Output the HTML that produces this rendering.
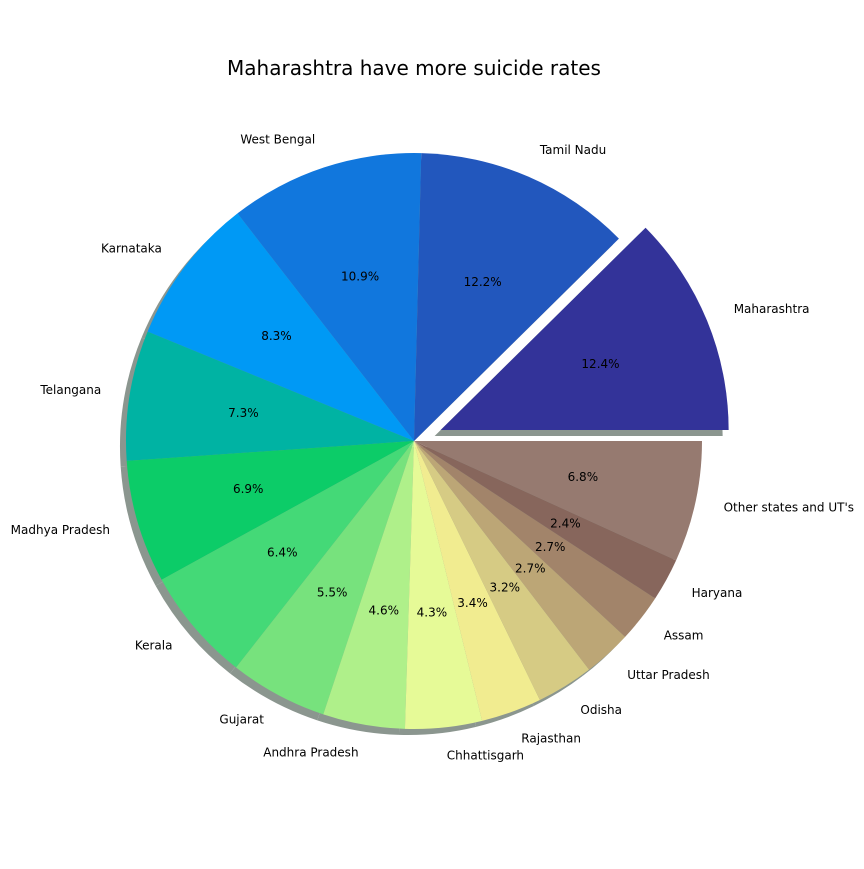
<!DOCTYPE html>
<html><head><meta charset="utf-8"><style>
body{margin:0;background:#fff}
svg text{font-family:"DejaVu Sans","Liberation Sans",sans-serif}
</style></head><body>
<svg id="chart" width="864" height="864" viewBox="0 0 864 864" xmlns="http://www.w3.org/2000/svg">
<rect width="864" height="864" fill="#fff"/>
<text x="414" y="75" text-anchor="middle" font-size="20">Maharashtra have more suicide rates</text>
<g id="shadows"></g><g id="slices"></g><g id="labels"></g>
</svg>
<script>
const categories=["Maharashtra","Tamil Nadu","West Bengal","Karnataka","Telangana","Madhya Pradesh","Kerala","Gujarat","Andhra Pradesh","Chhattisgarh","Rajasthan","Odisha","Uttar Pradesh","Assam","Haryana","Other states and UT's"];
const values=[12.4,12.2,10.9,8.3,7.3,6.9,6.4,5.5,4.6,4.3,3.4,3.2,2.7,2.7,2.4,6.8];
const explode=[0.1,0,0,0,0,0,0,0,0,0,0,0,0,0,0,0];
const colors=["#333399","#2257bd","#1177dd","#0099f5","#00b3a3","#0ccc68","#44d977","#77e27d","#aff08a","#e6fa97","#f1ec90","#d6cb84","#bca676","#a2846a","#87665c","#967a70"];
const cx=414,cy=441,R=288,NS="http://www.w3.org/2000/svg";
const total=values.reduce((a,b)=>a+b,0);
const sh=document.getElementById('shadows'),sl=document.getElementById('slices'),lb=document.getElementById('labels');
function pt(x,y,r,a){return [x+r*Math.cos(a),y-r*Math.sin(a)];}
function arc(x,y,a0,a1){const p0=pt(x,y,R,a0),p1=pt(x,y,R,a1);const large=(a1-a0)>Math.PI?1:0;
return `M${x},${y}L${p0[0]},${p0[1]}A${R},${R} 0 ${large} 0 ${p1[0]},${p1[1]}Z`;}
function txt(parent,x,y,s,anchor,name){const t=document.createElementNS(NS,'text');t.setAttribute('x',x);t.setAttribute('y',y);t.setAttribute('text-anchor',anchor);t.setAttribute('font-size','12');t.setAttribute('dominant-baseline','middle');t.textContent=s;


parent.appendChild(t);}
let acc=0;
values.forEach((v,i)=>{
const a0=acc/total*2*Math.PI;acc+=v;const a1=acc/total*2*Math.PI;const am=(a0+a1)/2;
const off=explode[i]*R;const x=cx+off*Math.cos(am),y=cy-off*Math.sin(am);
const s=document.createElementNS(NS,'path');s.setAttribute('d',arc(x-6,y+6,a0,a1));s.setAttribute('fill','#8b968f');


sh.appendChild(s);
const p=document.createElementNS(NS,'path');p.setAttribute('d',arc(x,y,a0,a1));p.setAttribute('fill',colors[i]);


sl.appendChild(p);
const lp=pt(x,y,R*1.1,am);txt(lb,lp[0],lp[1],categories[i],Math.cos(am)>=0?'start':'end','label-'+i);
const pp=pt(x,y,R*0.6,am);txt(lb,pp[0],pp[1],v.toFixed(1)+'%','middle','pct-'+i);
});
</script>
</body></html>
